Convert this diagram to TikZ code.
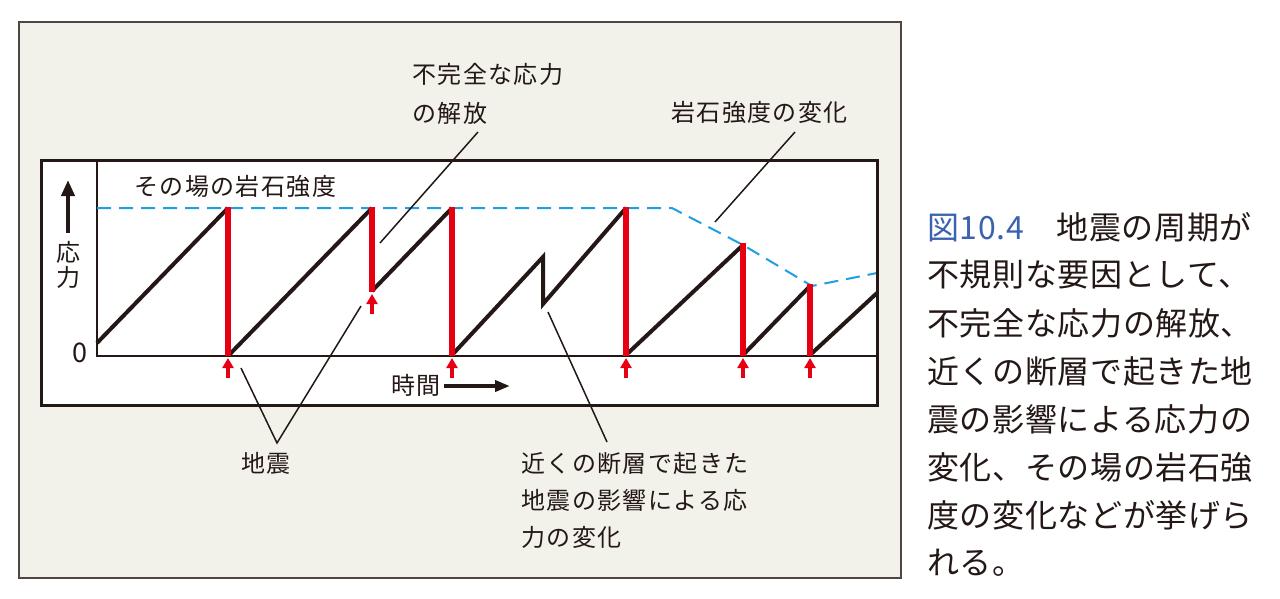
\documentclass[tikz,border=0pt]{standalone}
\usepackage{fontspec}
\setmainfont{Noto Sans CJK JP}
\newfontfamily\lblfont[LetterSpace=6]{Noto Sans CJK JP}
\newfontfamily\capfont[LetterSpace=2]{Noto Sans CJK JP}
\usetikzlibrary{arrows.meta}
\definecolor{panel}{HTML}{F3F2EA}
\definecolor{ink}{HTML}{231815}
\definecolor{qred}{HTML}{E60012}
\definecolor{qblue}{HTML}{1DA1E2}
\definecolor{capblue}{HTML}{3A62AE}
\tikzset{
  panelframe/.style={draw=ink!80, line width=1.5pt, fill=panel},
  plotframe/.style={draw=ink, line width=3pt},
  axisline/.style={draw=ink, line width=2pt},
  saw/.style={draw=ink, line width=4pt, line cap=butt, line join=miter},
  relbar/.style={draw=qred, line width=6pt},
  strength/.style={draw=qblue, line width=2pt, dash pattern=on 14pt off 8pt},
  quakearrow/.style={draw=qred, line width=3.5pt, -{Triangle[width=11pt,length=10pt]}},
  bigarrow/.style={draw=ink, line width=4pt},
  leader/.style={draw=ink, line width=1.5pt},
  lbl/.style={inner sep=0pt, text=ink, font=\lblfont\fontsize{24}{28}\selectfont},
  captext/.style={inner sep=0pt, text=ink, anchor=west, font=\capfont\fontsize{32}{40}\selectfont}
}
\begin{document}
\begin{tikzpicture}[x=1pt,y=-1pt]
\useasboundingbox (0,0) rectangle (1280,598);
\fill[white] (0,0) rectangle (1280,598);
% outer panel
\draw[panelframe] (19,22) rectangle (901,578);
% plot box
\fill[white] (41,160) rectangle (877,405);
% axes
\coordinate (origin) at (97,356);
\coordinate (ytop) at (97,160);
\coordinate (xend) at (877,356);
\draw[axisline] (ytop) -- (origin) -- (xend);
% rock strength (dashed)
\draw[strength] (97,208) -- (672,208) -- (743,245) -- (812,286) -- (877,273);
% stress sawtooth
\draw[saw] (97,343) -- (228,208);
\draw[saw] (229,355) -- (372,208);
\draw[saw] (372,291) -- (452,208);
\draw[saw] (452,355) -- (543,257) -- (543,304) -- (626,208);
\draw[saw] (626,355) -- (743,245);
\draw[saw] (743,355) -- (810,286);
\draw[saw] (810,355) -- (877,293);
% stress drops (red bars)
\draw[relbar] (228,207) -- (228,356);
\draw[relbar] (372,207) -- (372,292);
\draw[relbar] (452,207) -- (452,356);
\draw[relbar] (626,207) -- (626,356);
\draw[relbar] (743,243) -- (743,356);
\draw[relbar] (810,284) -- (810,356);
% earthquake arrows
\foreach \x in {228,452,626,743,810} {
  \draw[quakearrow] (\x,378) -- (\x,358);
}
\draw[quakearrow] (372,314) -- (372,294);
% frame on top
\draw[plotframe] (41,160) rectangle (877,405);
% y axis arrow and label
\coordinate (ya0) at (68,233);
\coordinate (ya1) at (68,180);
\draw[bigarrow, -{Triangle[width=13pt,length=16pt]}] (ya0) -- (ya1);
\node[lbl] (yl1) at (68,252) {応};
\node[lbl] (yl2) at (68,277) {力};
\node[inner sep=0pt, text=ink, font=\fontsize{27}{30}\selectfont] (zero) at (80,353) {0};
% x axis label
\node[lbl, anchor=west] (tl) at (391,385) {時間};
\coordinate (ta0) at (444,386);
\coordinate (ta1) at (510,386);
\draw[bigarrow, -{Triangle[width=11pt,length=15pt]}] (ta0) -- (ta1);
% in-plot label
\node[lbl, anchor=west] (insitu) at (134,186) {その場の岩石強度};
% labels outside
\node[lbl, anchor=west] (inc1) at (412,74) {不完全な応力};
\node[lbl, anchor=west] (inc2) at (412,113) {の解放};
\node[lbl, anchor=west] (chg) at (671,112) {岩石強度の変化};
\node[lbl, anchor=west] (eq) at (241,463) {地震};
\node[lbl, anchor=west] (nb1) at (521,463) {近くの断層で起きた};
\node[lbl, anchor=west] (nb2) at (521,500) {地震の影響による応};
\node[lbl, anchor=west] (nb3) at (521,537) {力の変化};
% leader lines
\coordinate (incA) at (478,132);
\coordinate (incB) at (380,243);
\draw[leader] (incA) -- (incB);
\coordinate (chgA) at (795,132);
\coordinate (chgB) at (715,222);
\draw[leader] (chgA) -- (chgB);
\coordinate (eqV) at (277,443);
\coordinate (eqL) at (241,368);
\coordinate (eqR) at (361,306);
\draw[leader] (eqL) -- (eqV) -- (eqR);
\coordinate (nbA) at (607,442);
\coordinate (nbB) at (548,312);
\draw[leader] (nbA) -- (nbB);
% caption
\node[captext] (c1) at (927,227) {{\color{capblue}図10.4}　地震の周期が};
\node[captext] (c2) at (927,275) {不規則な要因として、};
\node[captext] (c3) at (927,323) {不完全な応力の解放、};
\node[captext] (c4) at (927,371) {近くの断層で起きた地};
\node[captext] (c5) at (927,419) {震の影響による応力の};
\node[captext] (c6) at (927,467) {変化、その場の岩石強};
\node[captext] (c7) at (927,515) {度の変化などが挙げら};
\node[captext] (c8) at (927,563) {れる。};
\end{tikzpicture}
\end{document}
